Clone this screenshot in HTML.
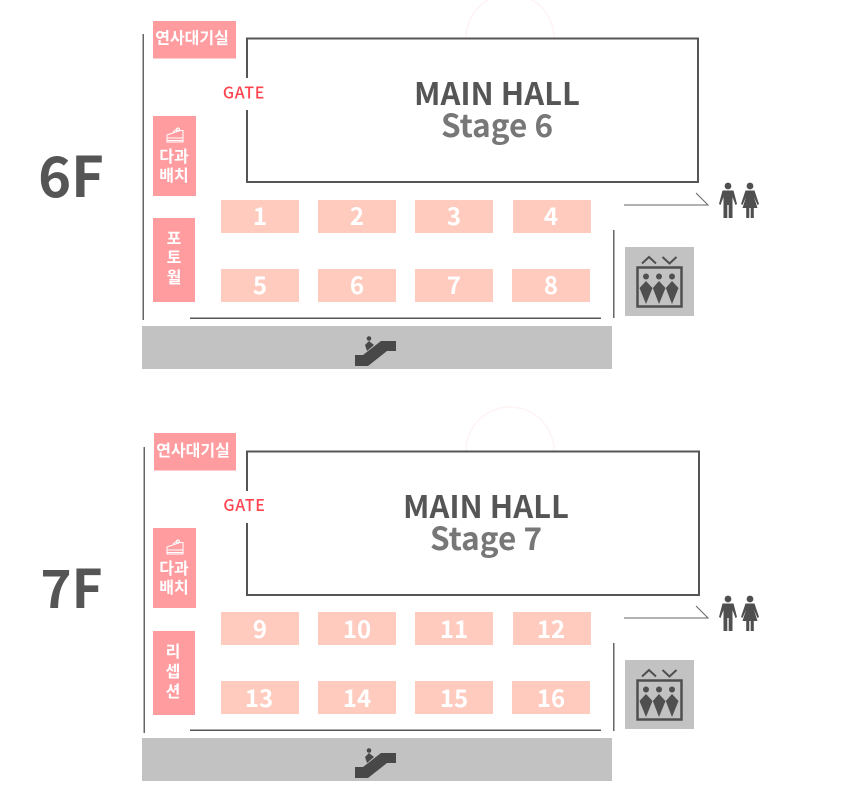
<!DOCTYPE html>
<html><head><meta charset="utf-8"><style>
html,body{margin:0;padding:0;background:#fff}
svg{display:block}
text{font-family:"Noto Sans CJK KR","Liberation Sans",sans-serif;text-anchor:middle}
.n{font-size:24px;font-weight:700;fill:#fff}
.w{font-size:16px;font-weight:700;fill:#fff}
.g{font-size:16px;font-weight:500;fill:#ff4450;letter-spacing:.7px}
.m{font-size:31px;font-weight:700;fill:#555}
.s{font-size:31.500px;font-weight:700;fill:#777}
.f{font-size:56px;font-weight:700;fill:#555}
</style></head><body>
<svg width="841" height="807" viewBox="0 0 841 807" xmlns="http://www.w3.org/2000/svg">
<defs>
<g id="esc"><path d="M355 366V355H363L381 341H396V351H387L368 366Z" fill="#484848"/><circle cx="369" cy="338.500" r="2.300" fill="#484848"/><path d="M365 345L369 341L374 345L367 351Z" fill="#484848"/></g>
<g id="ele"><rect x="625" y="247" width="69" height="69" fill="#c2c2c2"/>
<path d="M642 263.500L649 257L656 263.500M662.500 257L669.500 263.500L676.500 257" fill="none" stroke="#4f4f4f" stroke-width="2"/>
<rect x="637.500" y="267.500" width="44" height="39" fill="none" stroke="#4f4f4f" stroke-width="2.500"/>
<g fill="#4f4f4f"><circle cx="646" cy="276.500" r="3"/><circle cx="659" cy="276.500" r="3"/><circle cx="672" cy="276.500" r="3"/>
<path d="M639.500 288L646 281L652.500 288L646 304Z"/><path d="M652.800 288L659 281L665.500 288L659 304Z"/><path d="M665.800 288L672 281L678.500 288L672 304Z"/></g></g>
<g id="wc" fill="#4f4f4f"><circle cx="728" cy="186" r="3.400"/><path d="M722.500 190.500H733.500L737 204L735.500 205L732.500 197V218H728.700V205H727.300V218H723.500V197L720.500 205L719 204Z"/>
<circle cx="750" cy="186" r="3.400"/><path d="M745.500 190.500H754.500L759 204L757.500 205L754 197L757.500 208H753.800V218H750.700V208H749.300V218H746.200V208H742.500L746 197L742.500 205L741 204Z"/></g>
<g id="cake" fill="none" stroke="#fff" stroke-width="1"><path d="M167 135L180 130.500H183V142H167Z"/><path d="M167 138H183M167 140.500H183M173 132L178 128M176 131L179 130"/><circle cx="178" cy="129.500" r="1.500"/></g>
</defs>

<!-- faint arcs -->
<path d="M466 38A44 44 0 0 1 554 38" fill="none" stroke="#fff3f3" stroke-width="1.500"/>
<path d="M466 451A44 44 0 0 1 554 451" fill="none" stroke="#fff3f3" stroke-width="1.500"/>

<!-- 6F -->
<text class="f" x="71" y="197">6F</text>
<rect x="142.500" y="34" width="1.500" height="286" fill="#666"/>
<rect x="153" y="21" width="83" height="37.500" fill="#ff9ca0"/>
<text class="w" x="192" y="43.500">연사대기실</text>
<path d="M247 78V38.500H698V182H247V110" fill="none" stroke="#555" stroke-width="2"/>
<text class="g" x="244" y="98.500">GATE</text>
<text class="m" x="497" y="105">MAIN HALL</text>
<text class="s" x="497" y="137">Stage 6</text>
<rect x="153" y="116" width="43" height="80" fill="#ff9ca0"/>
<use href="#cake"/>
<text class="w" x="174" y="162">다과</text><text class="w" x="174" y="181">배치</text>
<rect x="153" y="218" width="42" height="84" fill="#ff9ca0"/>
<text class="w" x="174" y="244">포</text><text class="w" x="174" y="263">토</text><text class="w" x="174" y="283">월</text>
<g fill="#ffcbbf"><rect x="221" y="200" width="78" height="33"/><rect x="318" y="200" width="78" height="33"/><rect x="415" y="200" width="78" height="33"/><rect x="513" y="200" width="78" height="33"/>
<rect x="221" y="269" width="78" height="33"/><rect x="318" y="269" width="78" height="33"/><rect x="415" y="269" width="78" height="33"/><rect x="512" y="269" width="78" height="33"/></g>
<text class="n" x="260" y="225">1</text><text class="n" x="357" y="225">2</text><text class="n" x="454" y="225">3</text><text class="n" x="551" y="225">4</text>
<text class="n" x="260" y="294">5</text><text class="n" x="357" y="294">6</text><text class="n" x="454" y="294">7</text><text class="n" x="551" y="294">8</text>
<rect x="190" y="317.500" width="411" height="1.500" fill="#555"/>
<rect x="613" y="230" width="1.500" height="88" fill="#666"/>
<rect x="142" y="326" width="470" height="43" fill="#c2c2c2"/>
<use href="#esc"/>
<use href="#ele"/>
<path d="M624 205H708L696 193" fill="none" stroke="#666" stroke-width="1"/>
<use href="#wc"/>

<!-- 7F -->
<text class="f" x="71.500" y="608" style="font-size:53px">7F</text>
<rect x="143.500" y="447" width="1.500" height="286" fill="#666"/>
<rect x="154" y="433" width="82" height="37.500" fill="#ff9ca0"/>
<text class="w" x="193" y="456">연사대기실</text>
<path d="M247 491V451.500H699V595H247V523" fill="none" stroke="#555" stroke-width="2"/>
<text class="g" x="244.500" y="511">GATE</text>
<text class="m" x="486" y="518">MAIN HALL</text>
<text class="s" x="486" y="550">Stage 7</text>
<rect x="153" y="528" width="43" height="80" fill="#ff9ca0"/>
<use href="#cake" transform="translate(0,412)"/>
<text class="w" x="174" y="574">다과</text><text class="w" x="174" y="593">배치</text>
<rect x="153" y="631" width="42" height="84" fill="#ff9ca0"/>
<text class="w" x="173" y="657">리</text><text class="w" x="173" y="677">셉</text><text class="w" x="173" y="697">션</text>
<g fill="#ffcbbf"><rect x="221" y="612" width="78" height="33"/><rect x="318" y="612" width="78" height="33"/><rect x="415" y="612" width="78" height="33"/><rect x="513" y="612" width="78" height="33"/>
<rect x="221" y="681" width="78" height="33"/><rect x="318" y="681" width="78" height="33"/><rect x="415" y="681" width="78" height="33"/><rect x="512" y="681" width="78" height="33"/></g>
<text class="n" x="260" y="638">9</text><text class="n" x="357" y="638">10</text><text class="n" x="454" y="638">11</text><text class="n" x="551" y="638">12</text>
<text class="n" x="259" y="707">13</text><text class="n" x="357" y="707">14</text><text class="n" x="454" y="707">15</text><text class="n" x="551" y="707">16</text>
<rect x="190" y="729.500" width="411" height="1.500" fill="#555"/>
<rect x="613" y="643" width="1.500" height="88" fill="#666"/>
<rect x="142" y="738" width="470" height="43" fill="#c2c2c2"/>
<use href="#esc" transform="translate(0,412)"/>
<use href="#ele" transform="translate(0,413)"/>
<path d="M624 618H708L696 606" fill="none" stroke="#666" stroke-width="1"/>
<use href="#wc" transform="translate(0,413)"/>
</svg>
</body></html>
